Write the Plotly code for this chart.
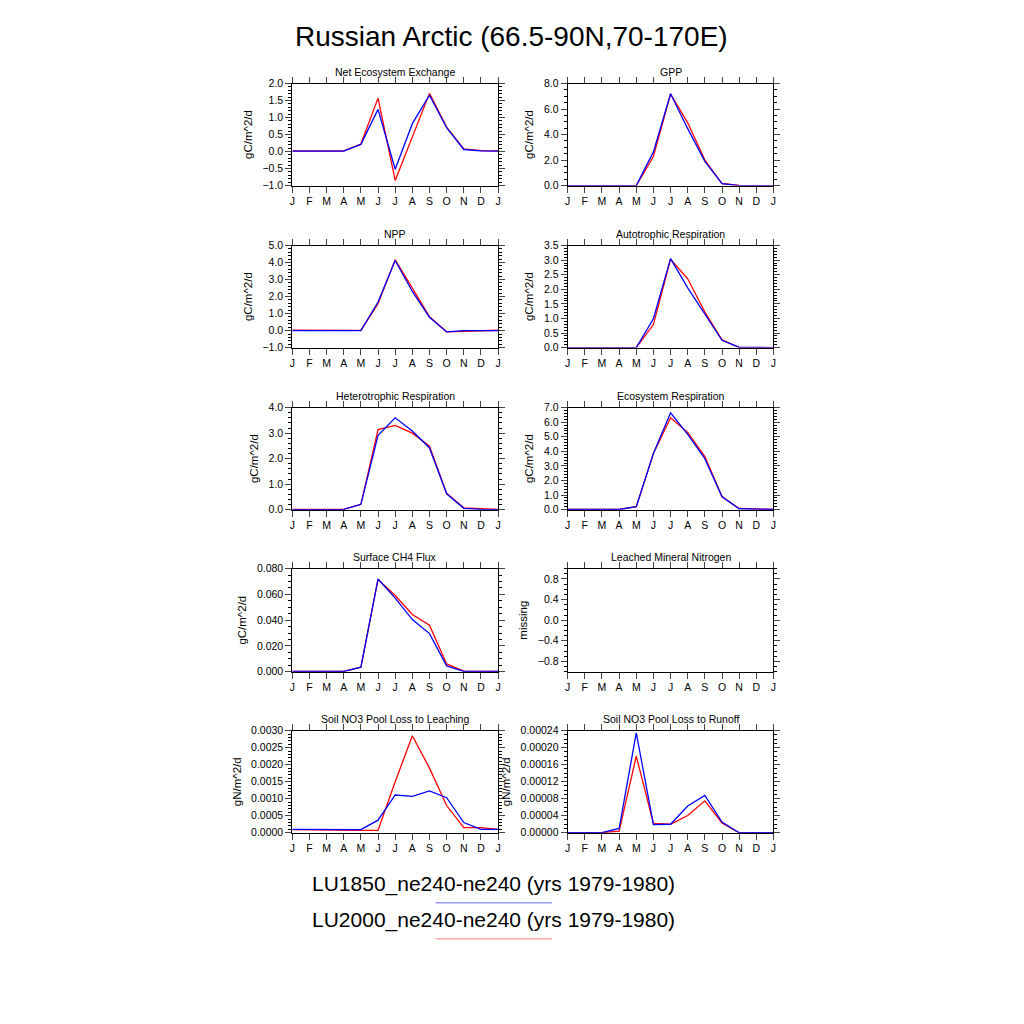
import plotly.graph_objects as go
from plotly.subplots import make_subplots

# month axis, Jan repeated at the end
months = ["J", "F", "M", "A", "M", "J", "J", "A", "S", "O", "N", "D", "J"]
month_idx = list(range(len(months)))

# blue = LU1850, red = LU2000
nee_lu1850 = [0.01, 0.01, 0.01, 0.01, 0.21, 1.24, -0.52, 0.82, 1.66, 0.70, 0.06, 0.02, 0.01]
nee_lu2000 = [0.02, 0.02, 0.02, 0.02, 0.22, 1.57, -0.85, 0.42, 1.71, 0.72, 0.08, 0.03, 0.02]

gpp_lu1850 = [0, 0, 0, 0, 0, 2.64, 7.20, 4.46, 1.90, 0.15, 0.0, 0, 0]
gpp_lu2000 = [0, 0, 0, 0, 0, 2.28, 7.18, 4.92, 2.00, 0.16, 0.02, 0, 0]

npp_lu1850 = [0, 0, 0, 0, 0, 1.68, 4.12, 2.30, 0.78, -0.08, 0, 0, 0]
npp_lu2000 = [0.02, 0.02, 0.02, 0.01, 0.01, 1.58, 4.16, 2.50, 0.82, -0.07, -0.03, 0.01, 0.02]

ar_lu1850 = [0, 0, 0, 0, 0, 0.99, 3.05, 2.05, 1.15, 0.25, 0.01, 0, 0]
ar_lu2000 = [0, 0, 0, 0, 0, 0.79, 3.03, 2.36, 1.22, 0.27, 0.01, 0, 0]

hr_lu1850 = [0, 0, 0, 0.01, 0.21, 2.91, 3.60, 3.08, 2.42, 0.62, 0.05, 0.01, 0]
hr_lu2000 = [0.01, 0.01, 0.01, 0.01, 0.21, 3.14, 3.30, 3.00, 2.49, 0.64, 0.07, 0.03, 0.01]

er_lu1850 = [0.01, 0.01, 0.01, 0.01, 0.20, 3.85, 6.64, 5.16, 3.50, 0.88, 0.06, 0.01, 0.01]
er_lu2000 = [0.01, 0.01, 0.01, 0.01, 0.20, 3.85, 6.30, 5.30, 3.64, 0.90, 0.08, 0.02, 0.01]

ch4_lu1850 = [0.0002, 0.0002, 0.0002, 0.0002, 0.0035, 0.0720, 0.0571, 0.0405, 0.0296, 0.0045, 0.0003, 0.0002, 0.0002]
ch4_lu2000 = [0.0003, 0.0002, 0.0002, 0.0002, 0.0035, 0.0717, 0.0592, 0.0444, 0.0361, 0.0060, 0.0005, 0.0002, 0.0003]

lmn_lu1850 = []  # missing
lmn_lu2000 = []

leach_lu1850 = [0.0001, 0.0001, 0.00009, 0.00009, 0.00009, 0.00037, 0.00111, 0.00107, 0.00123, 0.00103, 0.0003, 0.0001, 0.0001]
leach_lu2000 = [0.00009, 0.00008, 0.00008, 0.00008, 0.00007, 0.00007, 0.0015, 0.00285, 0.0019, 0.0008, 0.00015, 0.00015, 0.0001]

runoff_lu1850 = [0, 0, 0, 0.00001, 0.000235, 0.000019, 0.00002, 0.000063, 0.000088, 0.000025, 0, 0, 0]
runoff_lu2000 = [0, 0, 0, 0.000004, 0.00018, 0.000022, 0.00002, 0.0000405, 0.000075, 0.000023, 0, 0, 0]

case_names = ["LU1850_ne240-ne240 (yrs 1979-1980)", "LU2000_ne240-ne240 (yrs 1979-1980)"]

# title, ylabel, blue, red, range, dtick, tick0, minor, format
panels = [
    ("Net Ecosystem Exchange", "gC/m^2/d", nee_lu1850, nee_lu2000, [-1, 2], 0.5, -1, 0.1, ".1f"),
    ("GPP", "gC/m^2/d", gpp_lu1850, gpp_lu2000, [0, 8], 2, 0, 0.5, ".1f"),
    ("NPP", "gC/m^2/d", npp_lu1850, npp_lu2000, [-1, 5], 1, -1, 0.2, ".1f"),
    ("Autotrophic Respiration", "gC/m^2/d", ar_lu1850, ar_lu2000, [0, 3.5], 0.5, 0, 0.1, ".1f"),
    ("Heterotrophic Respiration", "gC/m^2/d", hr_lu1850, hr_lu2000, [0, 4], 1, 0, 0.2, ".1f"),
    ("Ecosystem Respiration", "gC/m^2/d", er_lu1850, er_lu2000, [0, 7], 1, 0, 0.2, ".1f"),
    ("Surface CH4 Flux", "gC/m^2/d", ch4_lu1850, ch4_lu2000, [0, 0.08], 0.02, 0, 0.005, ".3f"),
    ("Leached Mineral Nitrogen", "missing", lmn_lu1850, lmn_lu2000, [-1, 1], 0.4, -0.8, 0.1, ".1f"),
    ("Soil NO3 Pool Loss to Leaching", "gN/m^2/d", leach_lu1850, leach_lu2000, [0, 0.003], 0.0005, 0, 0.0001, ".4f"),
    ("Soil NO3 Pool Loss to Runoff", "gN/m^2/d", runoff_lu1850, runoff_lu2000, [0, 0.00024], 0.00004, 0, 0.00001, ".5f"),
]

W = H = 1024
col_px = [(291, 498), (568, 775)]
row_px = [(83, 185), (245, 347), (407, 509), (568, 671), (730, 832)]


def py(y):
    # pixel row (from top) -> paper fraction, spread slightly about mid-page
    y = 458 + (y - 458) / 0.988
    return 1 - y / H


fig = make_subplots(rows=5, cols=2)
font = "Liberation Sans, Arial, sans-serif"
tick_font = dict(size=10.5, color="black", family=font)

for i, (title, ylab, blue, red, rng, dt, t0, mn, fmt) in enumerate(panels):
    r, c = i // 2 + 1, i % 2 + 1
    x0, x1 = col_px[c - 1]
    top, bot = row_px[r - 1]
    # empty series still get a trace so the axes are drawn
    fig.add_trace(go.Scatter(x=month_idx[:len(red)], y=red, mode="lines",
                             line=dict(color="#ff0000", width=1.3)), row=r, col=c)
    fig.add_trace(go.Scatter(x=month_idx[:len(blue)], y=blue, mode="lines",
                             line=dict(color="#0000ff", width=1.3)), row=r, col=c)
    fig.update_xaxes(domain=[x0 / W, x1 / W], range=[0, 12], tickvals=month_idx, ticktext=months,
                     ticks="outside", ticklen=6, tickwidth=1, showline=True, linecolor="black",
                     linewidth=1, mirror="allticks", showgrid=False, zeroline=False,
                     tickfont=tick_font, row=r, col=c)
    fig.update_yaxes(domain=[py(bot), py(top)], range=rng, tick0=t0, dtick=dt,
                     tickformat=fmt, ticks="outside", ticklen=6, tickwidth=1, showline=True,
                     linecolor="black", linewidth=1, mirror="allticks", showgrid=False,
                     zeroline=False, tickfont=tick_font,
                     minor=dict(dtick=mn, tick0=t0, ticks="outside", ticklen=3, tickcolor="black", showgrid=False),
                     title=dict(text=ylab, font=dict(size=11.5, color="black", family=font), standoff=7),
                     row=r, col=c)
    fig.add_annotation(text=title, x=(x0 + x1) / 2 / W, y=py(top - 12), xref="paper", yref="paper",
                       showarrow=False, xanchor="center", yanchor="middle",
                       font=dict(size=10.5, color="black", family=font))

fig.add_annotation(text="Russian Arctic (66.5-90N,70-170E)", x=511 / W, y=py(36),
                   xref="paper", yref="paper", showarrow=False, xanchor="center", yanchor="middle",
                   font=dict(size=28, color="black", family=font))

legend_colors = ["#9999ff", "#ffaaaa"]
for k, (name, col) in enumerate(zip(case_names, legend_colors)):
    ty = 883 + 36 * k
    fig.add_annotation(text=name, x=493 / W, y=py(ty), xref="paper", yref="paper",
                       showarrow=False, xanchor="center", yanchor="middle",
                       font=dict(size=21, color="black", family=font))
    ly = py(ty + 19)
    fig.add_shape(type="line", x0=435 / W, x1=552 / W, y0=ly, y1=ly, xref="paper", yref="paper",
                  line=dict(color=col, width=1.3))

fig.update_layout(width=W, height=H, margin=dict(l=0, r=0, t=0, b=0), showlegend=False,
                  plot_bgcolor="white", paper_bgcolor="white", font=dict(family=font))

page_css = ("document.documentElement.style.margin='0';document.body.style.margin='0';"
            "document.documentElement.style.overflow='hidden';document.body.style.overflow='hidden';")
fig.write_html("out.html", config={"displayModeBar": False}, post_script=page_css)
